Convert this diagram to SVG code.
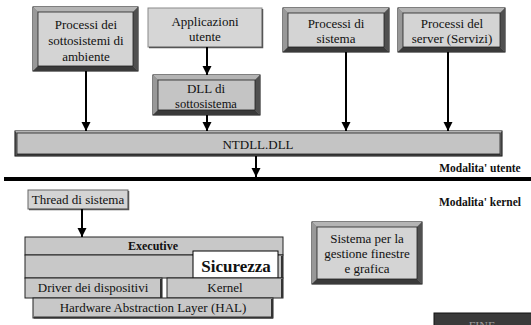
<svg xmlns="http://www.w3.org/2000/svg" width="531" height="325" viewBox="0 0 531 325" font-family="'Liberation Serif', 'DejaVu Serif', serif">
  <defs>
    <marker id="arrow" markerWidth="10" markerHeight="10" refX="9" refY="5" orient="auto" markerUnits="userSpaceOnUse">
      <path d="M0,0.5 L9,5 L0,9.5 Z" fill="#000"/>
    </marker>
    <style>
      text { font-family: 'Liberation Serif', 'DejaVu Serif', serif; fill: #111; text-anchor: middle; }
      .t13 { font-size: 13px; }
      .t12 { font-size: 12.5px; }
      .bold { font-weight: bold; }
      .frame { fill: #7a7a7a; stroke: #000; stroke-width: 1; }
      .bt { fill: #b4b4b4; }
      .bl { fill: #989898; }
      .bb { fill: #3a3a3a; }
      .br { fill: #505050; }
      .face { fill: #d4d4d4; stroke: #222; stroke-width: 0.8; }
      .face-dark { fill: #c4c4c4; stroke: #222; stroke-width: 0.8; }
      .flat { fill: #d6d6d6; stroke: #8a8a8a; stroke-width: 1; }
      .shadow { fill: none; stroke: #555; stroke-width: 1.5; }
      .layer { fill: #c8c8c8; stroke: #222; stroke-width: 1; }
      .edge { fill: none; stroke: #333; stroke-width: 2; }
      .conn { stroke: #000; stroke-width: 2; fill: none; marker-end: url(#arrow); }
    </style>
  </defs>
  <rect width="531" height="325" fill="#fff"/>

  <!-- user-mode processes -->
  <g id="processi-ambiente">
    <rect class="frame" x="33" y="7" width="105" height="64"/>
    <polygon class="bt" points="33,7 138,7 133,12 38,12"/>
    <polygon class="bl" points="33,7 38,12 38,66 33,71"/>
    <polygon class="bb" points="33,71 38,66 133,66 138,71"/>
    <polygon class="br" points="138,7 138,71 133,66 133,12"/>
    <rect class="face" x="38" y="12" width="95" height="54"/>
    <text class="t13" x="86" y="29">Processi dei</text>
    <text class="t13" x="86" y="45">sottosistemi di</text>
    <text class="t13" x="86" y="61">ambiente</text>
  </g>

  <g id="applicazioni">
    <rect class="flat" x="148" y="8" width="114" height="39"/>
    <path class="shadow" d="M149,47.5 H262.5 V9"/>
    <text class="t13" x="205" y="26">Applicazioni</text>
    <text class="t13" x="205" y="41">utente</text>
  </g>

  <g id="dll-sottosistema">
    <rect class="frame" x="153" y="75" width="107" height="40"/>
    <polygon class="bt" points="153,75 260,75 255,80 158,80"/>
    <polygon class="bl" points="153,75 158,80 158,110 153,115"/>
    <polygon class="bb" points="153,115 158,110 255,110 260,115"/>
    <polygon class="br" points="260,75 260,115 255,110 255,80"/>
    <rect class="face-dark" x="158" y="80" width="97" height="30"/>
    <text class="t13" x="206" y="93">DLL di</text>
    <text class="t12" x="206" y="108">sottosistema</text>
  </g>

  <g id="processi-sistema">
    <rect class="frame" x="283" y="8" width="106" height="44"/>
    <polygon class="bt" points="283,8 389,8 384,13 288,13"/>
    <polygon class="bl" points="283,8 288,13 288,47 283,52"/>
    <polygon class="bb" points="283,52 288,47 384,47 389,52"/>
    <polygon class="br" points="389,8 389,52 384,47 384,13"/>
    <rect class="face" x="288" y="13" width="96" height="34"/>
    <text class="t13" x="336" y="28">Processi di</text>
    <text class="t13" x="336" y="43">sistema</text>
  </g>

  <g id="processi-server">
    <rect class="frame" x="398" y="8" width="107" height="44"/>
    <polygon class="bt" points="398,8 505,8 500,13 403,13"/>
    <polygon class="bl" points="398,8 403,13 403,47 398,52"/>
    <polygon class="bb" points="398,52 403,47 500,47 505,52"/>
    <polygon class="br" points="505,8 505,52 500,47 500,13"/>
    <rect class="face" x="403" y="13" width="97" height="34"/>
    <text class="t13" x="452" y="28">Processi del</text>
    <text class="t13" x="452" y="43">server (Servizi)</text>
  </g>

  <g id="ntdll">
    <rect class="frame" x="15" y="131" width="487" height="25"/>
    <polygon class="bt" points="15,131 502,131 500,133 17,133"/>
    <polygon class="bb" points="15,156 17,154 500,154 502,156"/>
    <rect class="face-dark" x="17" y="133" width="483" height="21" stroke="none"/>
    <text class="t13" x="258" y="149">NTDLL.DLL</text>
  </g>

  <!-- user / kernel boundary -->
  <g id="confine">
    <line x1="4" y1="179" x2="531" y2="179" stroke="#000" stroke-width="4"/>
    <text class="bold" x="480" y="172" font-size="11.5">Modalita' utente</text>
    <text class="bold" x="480" y="206" font-size="11.5">Modalita' kernel</text>
  </g>

  <!-- kernel-mode components -->
  <g id="thread-sistema">
    <rect x="28" y="190" width="100" height="19" fill="#d4d4d4" stroke="#666" stroke-width="1"/>
    <path class="shadow" d="M29,209.5 H128.5 V191"/>
    <text class="t13" x="78" y="204">Thread di sistema</text>
  </g>

  <g id="executive">
    <rect class="layer" x="25" y="237" width="258" height="18"/>
    <rect class="layer" x="25" y="255" width="258" height="23"/>
    <line class="edge" x1="282" y1="256" x2="282" y2="278"/>
    <text class="bold" x="153" y="250" font-size="12">Executive</text>
  </g>

  <g id="sicurezza">
    <rect x="193" y="251" width="85" height="27" fill="#fff" stroke="#000" stroke-width="1"/>
    <text class="bold" x="236" y="272" font-size="17">Sicurezza</text>
  </g>

  <g id="driver">
    <rect class="layer" x="25" y="278" width="137" height="20"/>
    <line class="edge" x1="161" y1="279" x2="161" y2="298"/>
    <text class="t13" x="93" y="292">Driver dei dispositivi</text>
  </g>

  <g id="kernel">
    <rect class="layer" x="167" y="278" width="116" height="20"/>
    <line class="edge" x1="282" y1="279" x2="282" y2="298"/>
    <text class="t13" x="225" y="292">Kernel</text>
  </g>

  <g id="hal">
    <rect class="layer" x="33" y="298" width="240" height="20"/>
    <line class="edge" x1="272" y1="299" x2="272" y2="318"/>
    <line class="edge" x1="34" y1="317.5" x2="273" y2="317.5"/>
    <text class="t13" x="153" y="312">Hardware Abstraction Layer (HAL)</text>
  </g>

  <g id="gestione-finestre">
    <rect class="frame" x="312" y="222" width="110" height="62"/>
    <polygon class="bt" points="312,222 422,222 417,227 317,227"/>
    <polygon class="bl" points="312,222 317,227 317,279 312,284"/>
    <polygon class="bb" points="312,284 317,279 417,279 422,284"/>
    <polygon class="br" points="422,222 422,284 417,279 417,227"/>
    <rect class="face" x="317" y="227" width="100" height="52"/>
    <text class="t13" x="367" y="243">Sistema per la</text>
    <text class="t13" x="367" y="258">gestione finestre</text>
    <text class="t13" x="367" y="273">e grafica</text>
  </g>

  <g id="fine">
    <rect x="434" y="313" width="100" height="20" fill="#3a3a3a" stroke="#111" stroke-width="1"/>
    <text x="482" y="330" font-size="12" style="fill:#9a9a9a">FINE</text>
  </g>

  <!-- arrows -->
  <g id="connettori">
    <line class="conn" x1="86" y1="71" x2="86" y2="131"/>
    <line class="conn" x1="207" y1="47" x2="207" y2="75"/>
    <line class="conn" x1="207" y1="115" x2="207" y2="131"/>
    <line class="conn" x1="346" y1="52" x2="346" y2="131"/>
    <line class="conn" x1="448" y1="52" x2="448" y2="131"/>
    <line class="conn" x1="256" y1="156" x2="256" y2="177"/>
    <line class="conn" x1="82" y1="209" x2="82" y2="237"/>
  </g>
</svg>
